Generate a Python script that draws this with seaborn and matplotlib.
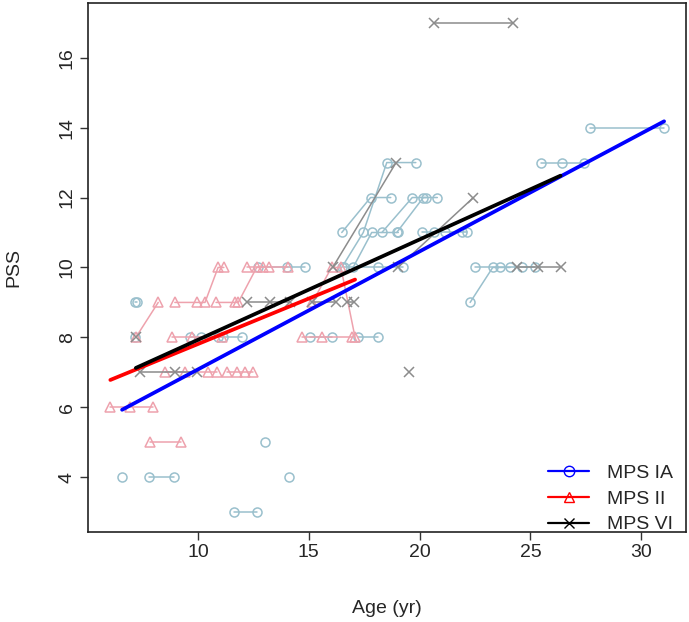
import pandas as pd
import numpy as np
import matplotlib
matplotlib.use("Agg")
import matplotlib.pyplot as plt
import seaborn as sns
from matplotlib.lines import Line2D

# per-subject visits: ages (yr) and PSS scores
ia_ages = [[27.68, 31.03], [25.49, 26.42, 27.42], [16.49, 17.46, 18.52, 19.83],
           [16.49, 17.79, 18.70], [18.30, 19.67, 20.80], [18.97, 20.17, 20.31],
           [17.0, 17.84, 19.04], [20.11, 20.65, 21.15, 21.9, 22.15],
           [12.69, 14.0, 14.83], [16.6, 18.14, 19.27], [22.28, 23.3, 23.63, 24.08],
           [22.5, 24.6, 25.2], [7.14, 7.26], [7.16], [9.64, 10.14],
           [10.92, 11.14, 11.97], [15.06, 16.04], [17.21, 18.12], [6.58],
           [7.8, 8.91], [14.13], [11.63, 12.66], [13.02]]
ia_pss = [[14, 14], [13, 13, 13], [10, 11, 13, 13],
          [11, 12, 12], [11, 12, 12], [11, 12, 12],
          [10, 11, 11], [11, 11, 11, 11, 11],
          [10, 10, 10], [10, 10, 10], [9, 10, 10, 10],
          [10, 10, 10], [9, 9], [8], [8, 8],
          [8, 8, 8], [8, 8], [8, 8], [4],
          [4, 4], [4], [3, 3], [5]]

ii_ages = [[7.2, 8.21], [8.96, 9.94, 10.32, 10.91, 11.17],
           [10.82, 11.67, 11.82, 12.65, 12.95], [12.2, 13.22, 14.08],
           [8.85, 9.72, 11.1], [8.51, 9.41, 10.47, 10.84],
           [11.29, 11.75, 12.12, 12.5], [6.05, 6.94, 7.99], [7.84, 9.25],
           [14.68, 15.58, 16.94], [15.16, 16.03, 16.45, 17.09]]
ii_pss = [[8, 9], [9, 9, 9, 10, 10],
          [9, 9, 9, 10, 10], [10, 10, 10],
          [8, 8, 8], [7, 7, 7, 7],
          [7, 7, 7, 7], [6, 6, 6], [5, 5],
          [8, 8, 8], [9, 10, 10, 8]]

vi_ages = [[20.67, 24.22], [16.08, 18.94], [19.02, 22.43], [24.39, 25.36, 26.36],
           [12.2, 13.24, 14.15], [15.16, 16.24], [16.73, 17.05], [7.2],
           [7.38, 8.96, 9.94], [19.53]]
vi_pss = [[17, 17], [10, 13], [10, 12], [10, 10, 10],
          [9, 9, 9], [9, 9], [9, 9], [8],
          [7, 7, 7], [7]]

groups = ["MPS IA", "MPS II", "MPS VI"]
# fitted lines (intercept, slope)
fit_intercept = [3.71, 5.21, 5.06]
fit_slope = [0.3374, 0.26, 0.287]

point_colors = ["#9AC0CD", "#EEA2AD", "#8C8C8C"]
fit_colors = ["#0000FF", "#FF0000", "#000000"]
markers = ["o", "^", "x"]

rows = []
for g, ages, scores in zip(groups, [ia_ages, ii_ages, vi_ages], [ia_pss, ii_pss, vi_pss]):
    for i, (a, s) in enumerate(zip(ages, scores)):
        for aa, ss in zip(a, s):
            rows.append({"group": g, "subject": f"{g}-{i}", "age": aa, "pss": ss})
df = pd.DataFrame(rows)

sns.set_style("white")
plt.rcParams["font.family"] = ["Liberation Sans", "DejaVu Sans"]

fig = plt.figure(figsize=(6.89, 6.22), dpi=100)
ax = fig.add_axes([0.128, 0.145, 0.868, 0.85])

for g, pc, m in zip(groups, point_colors, markers):
    sub = df[df["group"] == g]
    sns.lineplot(data=sub, x="age", y="pss", units="subject", estimator=None,
                 color=pc, marker=m, mfc="none", mec=pc, mew=1.1, ms=6.5,
                 lw=1.1, ax=ax, legend=False)

for g, b0, b1, fc in zip(groups, fit_intercept, fit_slope, fit_colors):
    sub = df[df["group"] == g]
    xs = np.array([sub["age"].min(), sub["age"].max()])
    sns.lineplot(x=xs, y=b0 + b1 * xs, color=fc, lw=2.7, ax=ax, legend=False)

xr = df["age"].max() - df["age"].min()
yr = df["pss"].max() - df["pss"].min()
ax.set_xlim(df["age"].min() - 0.04 * xr, df["age"].max() + 0.04 * xr)
ax.set_ylim(df["pss"].min() - 0.04 * yr, df["pss"].max() + 0.04 * yr)
ax.set_xticks([10, 15, 20, 25, 30])
ax.set_yticks([4, 6, 8, 10, 12, 14, 16])
ax.tick_params(axis="both", direction="out", length=6, width=1, labelsize=14,
               bottom=True, left=True, color="#333333", pad=3)
for lab in ax.get_yticklabels():
    lab.set_rotation(90)
    lab.set_va("center")
for sp in ax.spines.values():
    sp.set_color("#222222")
    sp.set_linewidth(1.2)
ax.set_xlabel("Age (yr)", fontsize=14, labelpad=28)
ax.set_ylabel("PSS", fontsize=14, labelpad=26)

handles = [Line2D([0], [0], color=fc, marker=m, mfc="none", mec=fc, ms=7.5, lw=1.6)
           for fc, m in zip(fit_colors, markers)]
ax.legend(handles, groups, loc="lower right", bbox_to_anchor=(0.997, -0.025),
          frameon=False, fontsize=14, handlelength=2.1, borderaxespad=0.2,
          labelspacing=0.42, handletextpad=0.9)

fig.savefig("out.png", dpi=100)
